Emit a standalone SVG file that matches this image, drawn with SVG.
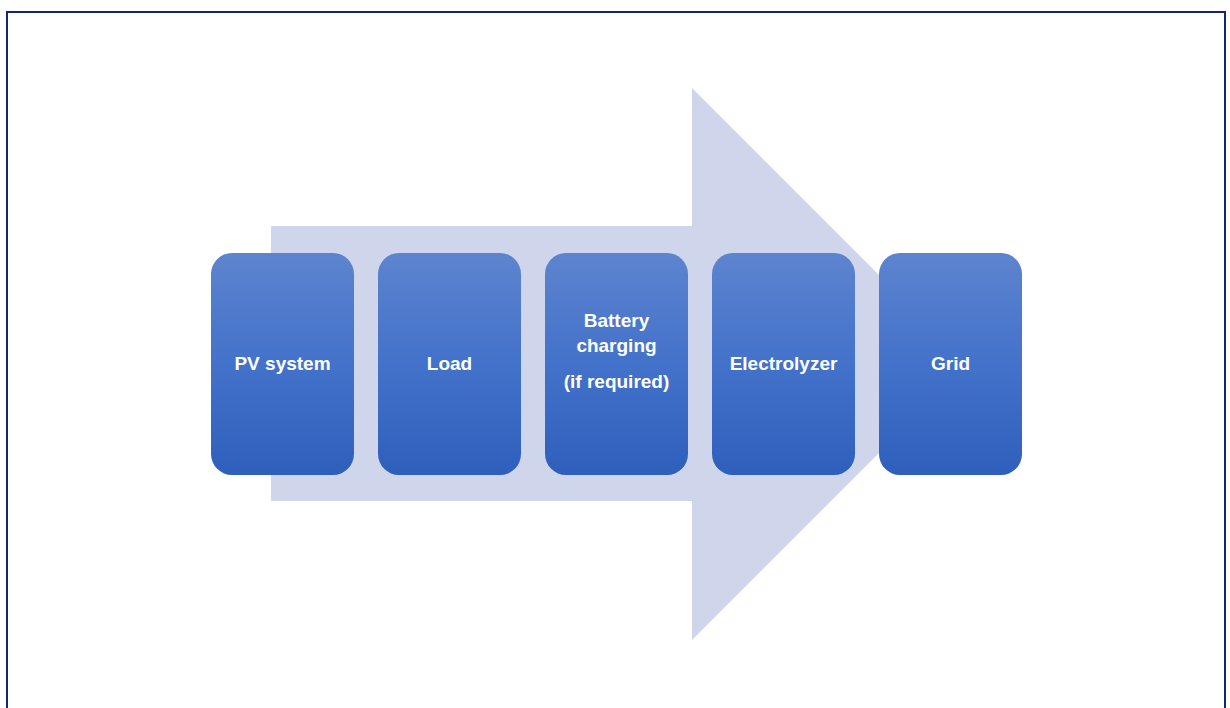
<svg xmlns="http://www.w3.org/2000/svg" width="1230" height="708" viewBox="0 0 1230 708">
<defs>
<linearGradient id="g" x1="0" y1="0" x2="0" y2="1">
<stop offset="0" stop-color="#5D84CE"/>
<stop offset="0.5" stop-color="#4372CA"/>
<stop offset="1" stop-color="#2E5FBB"/>
</linearGradient>
</defs>
<style>
.box{fill:url(#g)}
.t{font-family:"Liberation Sans",Arial,sans-serif;font-weight:bold;font-size:19px;fill:#FFFFFF;text-anchor:middle}
</style>
<rect x="0" y="0" width="1230" height="708" fill="#FFFFFF"/>
<rect x="7" y="12" width="1218" height="720" fill="none" stroke="#0E2A6B" stroke-width="2"/>
<g id="connectors">
<polygon points="271,226 692,226 692,88 968,364 692,640 692,501 271,501" fill="#CFD5EA"/>
</g>
<g id="pv"><rect class="box" x="211" y="253" width="143" height="222" rx="21"/><text class="t" x="282.5" y="370">PV system</text></g>
<g id="load"><rect class="box" x="378" y="253" width="143" height="222" rx="21"/><text class="t" x="449.5" y="370">Load</text></g>
<g id="battery"><rect class="box" x="545" y="253" width="143" height="222" rx="21"/><text class="t" x="616.5" y="327">Battery</text><text class="t" x="616.5" y="352">charging</text><text class="t" x="616.5" y="388">(if required)</text></g>
<g id="electrolyzer"><rect class="box" x="712" y="253" width="143" height="222" rx="21"/><text class="t" x="783.5" y="370">Electrolyzer</text></g>
<g id="grid"><rect class="box" x="879" y="253" width="143" height="222" rx="21"/><text class="t" x="950.5" y="370">Grid</text></g>
</svg>
